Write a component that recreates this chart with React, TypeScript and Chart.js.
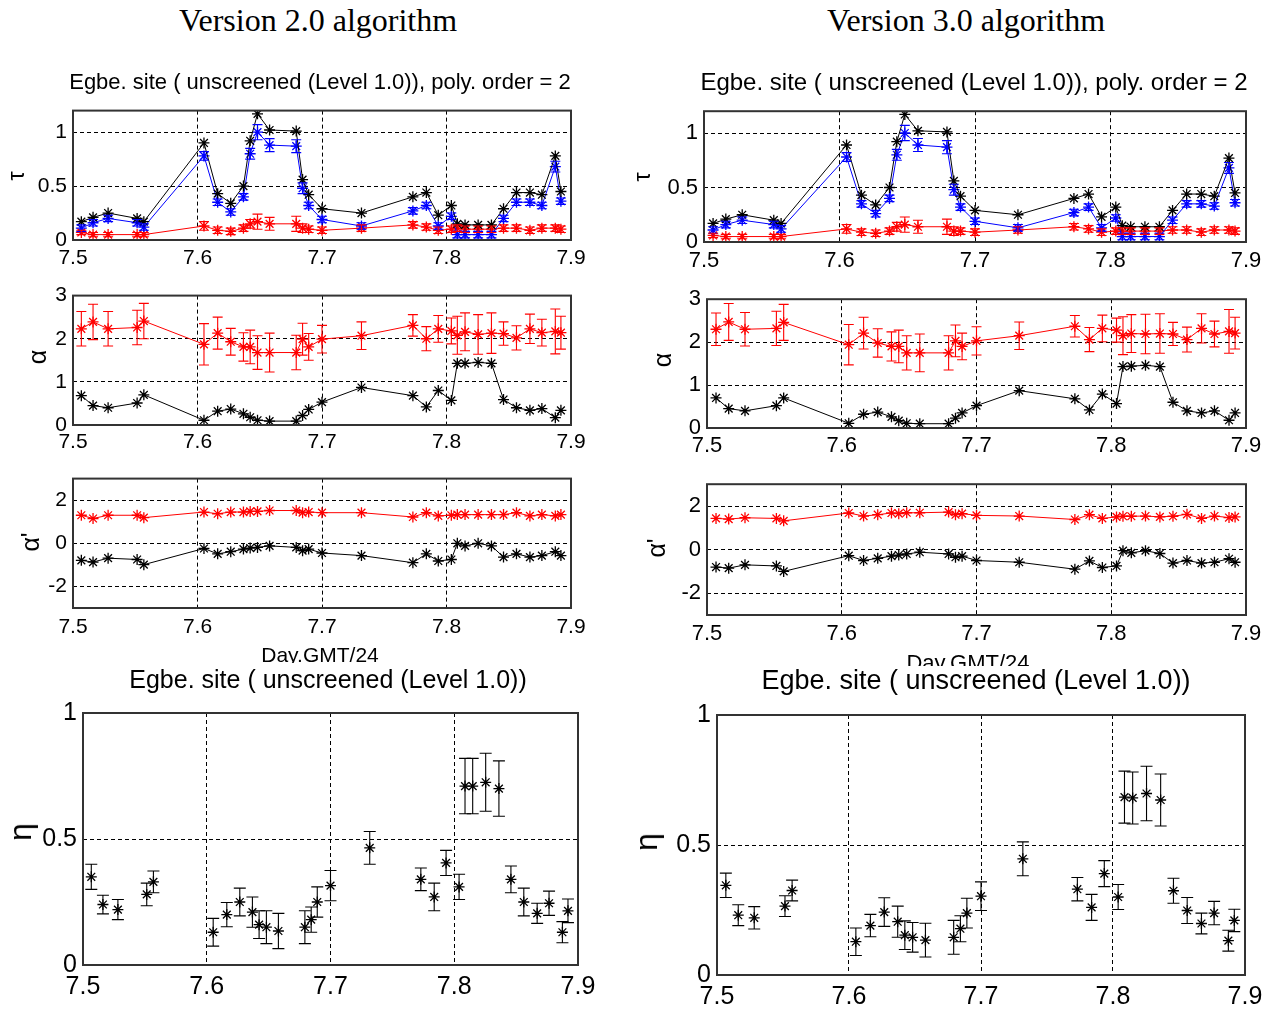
import React, { useEffect, useRef } from 'react';
import { Chart, registerables } from 'chart.js';

Chart.register(...registerables);

// Observation times (day of month + GMT hour / 24)
const dayTimes = [
  7.5067, 7.5161, 7.5282, 7.5515, 7.5569, 7.6052, 7.6162, 7.6267, 7.6369, 7.6423,
  7.6482, 7.6579, 7.6793, 7.6844, 7.6893, 7.7, 7.7317, 7.773, 7.7838, 7.7934,
  7.8039, 7.8087, 7.8149, 7.8254, 7.8361, 7.8458, 7.8562, 7.867, 7.8766, 7.8874, 7.8919,
];
const dayTicks = [7.5, 7.6, 7.7, 7.8, 7.9];
const tauTicks = [0, 0.5, 1];
const alphaTicks = [0, 1, 2, 3];
const alphaPrimeTicks = [-2, 0, 2];
const etaTicks = [0, 0.5, 1];

// ---- Version 2.0 ----
const tauTotalV2 = [0.17, 0.21, 0.25, 0.2, 0.17, 0.9, 0.43, 0.34, 0.5, 0.92, 1.17, 1.02, 1.01, 0.56, 0.42, 0.29, 0.25, 0.4, 0.44, 0.23, 0.32, 0.15, 0.14, 0.14, 0.14, 0.29, 0.44, 0.44, 0.42, 0.78, 0.45];
const tauFineV2 = [0.11, 0.16, 0.2, 0.16, 0.12, 0.78, 0.35, 0.26, 0.4, 0.8, 1.0, 0.88, 0.87, 0.48, 0.32, 0.19, 0.13, 0.27, 0.32, 0.13, 0.22, 0.05, 0.05, 0.05, 0.05, 0.2, 0.35, 0.35, 0.32, 0.68, 0.36];
const tauFineErrV2 = [0.03, 0.03, 0.03, 0.03, 0.03, 0.04, 0.03, 0.03, 0.03, 0.05, 0.07, 0.06, 0.06, 0.05, 0.03, 0.03, 0.03, 0.03, 0.03, 0.03, 0.03, 0.03, 0.03, 0.03, 0.03, 0.03, 0.03, 0.03, 0.03, 0.05, 0.03];
const tauCoarseV2 = [0.07, 0.05, 0.05, 0.05, 0.05, 0.13, 0.09, 0.08, 0.11, 0.15, 0.17, 0.15, 0.15, 0.11, 0.1, 0.09, 0.11, 0.14, 0.12, 0.09, 0.1, 0.11, 0.1, 0.1, 0.1, 0.11, 0.11, 0.09, 0.11, 0.11, 0.1];
const tauCoarseErrV2 = [0.02, 0.02, 0.02, 0.02, 0.02, 0.04, 0.03, 0.03, 0.03, 0.04, 0.07, 0.06, 0.07, 0.04, 0.03, 0.03, 0.03, 0.03, 0.03, 0.03, 0.03, 0.03, 0.03, 0.03, 0.03, 0.03, 0.03, 0.03, 0.03, 0.03, 0.03];
const alphaFitV2 = [0.68, 0.45, 0.4, 0.51, 0.7, 0.11, 0.32, 0.37, 0.26, 0.18, 0.11, 0.09, 0.09, 0.22, 0.36, 0.53, 0.87, 0.68, 0.42, 0.8, 0.57, 1.43, 1.43, 1.45, 1.43, 0.59, 0.4, 0.34, 0.38, 0.17, 0.34];
const alphaV2 = [2.23, 2.39, 2.23, 2.26, 2.41, 1.87, 2.13, 1.93, 1.81, 1.81, 1.68, 1.68, 1.68, 1.99, 1.81, 1.99, 2.07, 2.31, 2.0, 2.23, 2.18, 2.08, 2.16, 2.1, 2.13, 2.12, 2.02, 2.23, 2.14, 2.17, 2.14];
const alphaErrV2 = [0.4, 0.41, 0.4, 0.4, 0.41, 0.48, 0.37, 0.31, 0.33, 0.39, 0.39, 0.45, 0.4, 0.37, 0.31, 0.32, 0.32, 0.25, 0.28, 0.31, 0.3, 0.44, 0.44, 0.46, 0.47, 0.27, 0.28, 0.34, 0.31, 0.52, 0.38];
const alphaPrimeCoarseV2 = [1.3, 1.15, 1.3, 1.3, 1.19, 1.45, 1.37, 1.45, 1.45, 1.48, 1.48, 1.52, 1.52, 1.42, 1.45, 1.42, 1.42, 1.22, 1.42, 1.27, 1.3, 1.33, 1.33, 1.33, 1.33, 1.33, 1.42, 1.27, 1.33, 1.27, 1.33];
const alphaPrimeFineV2 = [-0.79, -0.87, -0.69, -0.75, -0.99, -0.24, -0.49, -0.39, -0.27, -0.22, -0.19, -0.12, -0.19, -0.34, -0.27, -0.45, -0.57, -0.9, -0.49, -0.82, -0.75, 0.0, -0.12, 0.0, -0.12, -0.64, -0.49, -0.64, -0.57, -0.39, -0.57];
const etaV2 = [0.35, 0.24, 0.22, 0.28, 0.33, 0.13, 0.2, 0.25, 0.21, 0.16, 0.15, 0.135, 0.15, 0.18, 0.25, 0.315, 0.465, 0.34, 0.27, 0.405, 0.31, 0.71, 0.71, 0.725, 0.7, 0.34, 0.25, 0.205, 0.245, 0.13, 0.215];
const etaErrV2 = [0.05, 0.037, 0.04, 0.045, 0.043, 0.055, 0.048, 0.055, 0.06, 0.055, 0.065, 0.07, 0.065, 0.05, 0.06, 0.06, 0.065, 0.045, 0.055, 0.05, 0.05, 0.11, 0.11, 0.115, 0.11, 0.053, 0.055, 0.04, 0.048, 0.042, 0.047];

// ---- Version 3.0 ----
const tauTotalV3 = [0.17, 0.21, 0.25, 0.2, 0.17, 0.89, 0.43, 0.34, 0.5, 0.92, 1.17, 1.02, 1.01, 0.56, 0.42, 0.29, 0.25, 0.4, 0.44, 0.23, 0.32, 0.15, 0.14, 0.14, 0.14, 0.29, 0.44, 0.44, 0.42, 0.77, 0.45];
const tauFineV3 = [0.11, 0.16, 0.2, 0.16, 0.12, 0.78, 0.35, 0.26, 0.4, 0.8, 1.0, 0.89, 0.87, 0.48, 0.32, 0.19, 0.13, 0.27, 0.32, 0.13, 0.22, 0.05, 0.05, 0.05, 0.05, 0.2, 0.35, 0.35, 0.33, 0.68, 0.36];
const tauFineErrV3 = [0.03, 0.03, 0.03, 0.03, 0.03, 0.04, 0.03, 0.03, 0.03, 0.05, 0.07, 0.06, 0.06, 0.05, 0.03, 0.03, 0.03, 0.03, 0.03, 0.03, 0.03, 0.03, 0.03, 0.03, 0.03, 0.03, 0.03, 0.03, 0.03, 0.05, 0.03];
const tauCoarseV3 = [0.06, 0.05, 0.05, 0.05, 0.05, 0.12, 0.09, 0.08, 0.1, 0.14, 0.16, 0.14, 0.14, 0.1, 0.1, 0.09, 0.11, 0.14, 0.12, 0.09, 0.1, 0.1, 0.1, 0.1, 0.1, 0.11, 0.11, 0.09, 0.11, 0.11, 0.1];
const tauCoarseErrV3 = [0.02, 0.02, 0.02, 0.02, 0.02, 0.04, 0.03, 0.03, 0.03, 0.04, 0.07, 0.06, 0.07, 0.04, 0.03, 0.03, 0.03, 0.03, 0.03, 0.03, 0.03, 0.03, 0.03, 0.03, 0.03, 0.03, 0.03, 0.03, 0.03, 0.03, 0.03];
const alphaFitV3 = [0.7, 0.45, 0.4, 0.52, 0.7, 0.11, 0.32, 0.37, 0.26, 0.17, 0.11, 0.1, 0.1, 0.23, 0.35, 0.52, 0.87, 0.68, 0.42, 0.79, 0.57, 1.43, 1.44, 1.46, 1.43, 0.6, 0.4, 0.35, 0.4, 0.18, 0.35];
const alphaV3 = [2.3, 2.47, 2.3, 2.32, 2.46, 1.94, 2.21, 1.98, 1.9, 1.9, 1.75, 1.75, 1.75, 2.03, 1.9, 2.03, 2.15, 2.37, 2.06, 2.32, 2.28, 2.15, 2.2, 2.19, 2.2, 2.19, 2.06, 2.32, 2.19, 2.25, 2.21];
const alphaErrV3 = [0.38, 0.43, 0.39, 0.4, 0.42, 0.47, 0.37, 0.33, 0.34, 0.38, 0.4, 0.44, 0.4, 0.37, 0.31, 0.33, 0.32, 0.25, 0.28, 0.31, 0.28, 0.44, 0.44, 0.46, 0.46, 0.27, 0.29, 0.34, 0.3, 0.51, 0.37];
const alphaPrimeCoarseV3 = [1.43, 1.4, 1.46, 1.43, 1.32, 1.68, 1.54, 1.6, 1.68, 1.65, 1.69, 1.69, 1.72, 1.6, 1.65, 1.57, 1.54, 1.38, 1.6, 1.43, 1.5, 1.53, 1.53, 1.54, 1.5, 1.53, 1.62, 1.43, 1.54, 1.47, 1.5];
const alphaPrimeFineV3 = [-0.8, -0.85, -0.7, -0.75, -1.0, -0.28, -0.5, -0.4, -0.3, -0.25, -0.2, -0.12, -0.2, -0.35, -0.3, -0.5, -0.58, -0.9, -0.52, -0.82, -0.75, -0.05, -0.15, -0.05, -0.18, -0.62, -0.5, -0.62, -0.58, -0.42, -0.58];
const etaV3 = [0.345, 0.23, 0.22, 0.265, 0.325, 0.128, 0.19, 0.242, 0.205, 0.153, 0.145, 0.134, 0.145, 0.178, 0.238, 0.303, 0.447, 0.33, 0.26, 0.39, 0.3, 0.684, 0.681, 0.698, 0.673, 0.324, 0.248, 0.198, 0.238, 0.132, 0.21];
const etaErrV3 = [0.047, 0.04, 0.043, 0.04, 0.04, 0.053, 0.043, 0.055, 0.06, 0.055, 0.057, 0.065, 0.065, 0.05, 0.057, 0.055, 0.065, 0.045, 0.05, 0.05, 0.048, 0.1, 0.1, 0.105, 0.1, 0.048, 0.05, 0.04, 0.045, 0.04, 0.043];

const RED = '#ff0000';
const BLUE = '#0000ff';
const BLACK = '#000000';
const SANS = '"Liberation Sans", Arial, sans-serif';
const SERIF = '"Liberation Serif", "Times New Roman", serif';

// Space reserved around each plot box inside its canvas
const PAD_L = 70;
const PAD_T = 16;
const PAD_R = 28;
const PAD_B = 48;

type Series = { y: number[]; err?: number[]; color: string; line: boolean };
type Panel = {
  key: string;
  box: [number, number, number, number]; // left, top, right, bottom of the plot box
  yMin: number;
  yMax: number;
  yTicks: number[];
  fontSize: number;
  xPad: number;
  radius: number;
  cap: number;
  series: Series[];
};

const errorBarPlugin = {
  id: 'errorBars',
  afterDatasetsDraw(chart: any) {
    const ctx = chart.ctx;
    const yScale = chart.scales.y;
    chart.data.datasets.forEach((ds: any, i: number) => {
      if (!ds.errors) return;
      const meta = chart.getDatasetMeta(i);
      const cap = ds.capHalf || 5;
      ctx.save();
      ctx.strokeStyle = ds.borderColor;
      ctx.lineWidth = 1.1;
      meta.data.forEach((pt: any, j: number) => {
        const v = ds.data[j].y;
        const e = ds.errors[j];
        const yt = yScale.getPixelForValue(v + e);
        const yb = yScale.getPixelForValue(v - e);
        const x = pt.x;
        ctx.beginPath();
        ctx.moveTo(x, yt);
        ctx.lineTo(x, yb);
        ctx.moveTo(x - cap, yt);
        ctx.lineTo(x + cap, yt);
        ctx.moveTo(x - cap, yb);
        ctx.lineTo(x + cap, yb);
        ctx.stroke();
      });
      ctx.restore();
    });
  },
};

// Solid box round the plot area (covers the dashed grid lines on its edges)
const framePlugin = {
  id: 'boxFrame',
  afterDraw(chart: any) {
    const { left, top, right, bottom } = chart.chartArea;
    const ctx = chart.ctx;
    ctx.save();
    ctx.strokeStyle = '#333333';
    ctx.lineWidth = 2;
    ctx.strokeRect(left, top, right - left, bottom - top);
    ctx.restore();
  },
};

const panels: Panel[] = [
  {
    key: 'tau2', box: [73, 108, 571, 240], yMin: 0, yMax: 1.2, yTicks: tauTicks, fontSize: 21, xPad: 6, radius: 5.5, cap: 5,
    series: [
      { y: tauTotalV2, color: BLACK, line: true },
      { y: tauFineV2, err: tauFineErrV2, color: BLUE, line: true },
      { y: tauCoarseV2, err: tauCoarseErrV2, color: RED, line: true },
    ],
  },
  {
    key: 'alpha2', box: [73, 293, 571, 425], yMin: 0, yMax: 3, yTicks: alphaTicks, fontSize: 21, xPad: 5, radius: 5.5, cap: 5,
    series: [
      { y: alphaV2, err: alphaErrV2, color: RED, line: true },
      { y: alphaFitV2, color: BLACK, line: true },
    ],
  },
  {
    key: 'alphap2', box: [73, 476, 571, 608], yMin: -3, yMax: 3, yTicks: alphaPrimeTicks, fontSize: 21, xPad: 7, radius: 5.5, cap: 5,
    series: [
      { y: alphaPrimeCoarseV2, color: RED, line: true },
      { y: alphaPrimeFineV2, color: BLACK, line: true },
    ],
  },
  {
    key: 'eta2', box: [83, 708, 578, 965], yMin: 0, yMax: 1, yTicks: etaTicks, fontSize: 25, xPad: 7, radius: 5.5, cap: 6,
    series: [{ y: etaV2, err: etaErrV2, color: BLACK, line: false }],
  },
  {
    key: 'tau3', box: [704, 108, 1246, 242], yMin: 0, yMax: 1.2, yTicks: tauTicks, fontSize: 22, xPad: 6, radius: 5.5, cap: 5,
    series: [
      { y: tauTotalV3, color: BLACK, line: true },
      { y: tauFineV3, err: tauFineErrV3, color: BLUE, line: true },
      { y: tauCoarseV3, err: tauCoarseErrV3, color: RED, line: true },
    ],
  },
  {
    key: 'alpha3', box: [707, 296, 1246, 428], yMin: 0, yMax: 3, yTicks: alphaTicks, fontSize: 22, xPad: 5, radius: 5.5, cap: 5,
    series: [
      { y: alphaV3, err: alphaErrV3, color: RED, line: true },
      { y: alphaFitV3, color: BLACK, line: true },
    ],
  },
  {
    key: 'alphap3', box: [707, 481, 1246, 615], yMin: -3, yMax: 3, yTicks: alphaPrimeTicks, fontSize: 22, xPad: 6, radius: 5.5, cap: 5,
    series: [
      { y: alphaPrimeCoarseV3, color: RED, line: true },
      { y: alphaPrimeFineV3, color: BLACK, line: true },
    ],
  },
  {
    key: 'eta3', box: [717, 710, 1245, 975], yMin: 0, yMax: 1, yTicks: etaTicks, fontSize: 25, xPad: 7, radius: 5.5, cap: 6,
    series: [{ y: etaV3, err: etaErrV3, color: BLACK, line: false }],
  },
];

function PanelChart({ panel }: { panel: Panel }) {
  const ref = useRef<HTMLCanvasElement>(null);
  const [l, t, r, b] = panel.box;
  const w = r - l + PAD_L + PAD_R;
  const h = b - t + PAD_T + PAD_B;

  useEffect(() => {
    if (!ref.current) return;
    const font = { family: SANS, size: panel.fontSize };
    const chart = new Chart(ref.current, {
      type: 'scatter',
      data: {
        datasets: panel.series.map((s) => ({
          data: dayTimes.map((x, i) => ({ x, y: s.y[i] })),
          borderColor: s.color,
          backgroundColor: s.color,
          borderWidth: 1,
          showLine: s.line,
          tension: 0,
          pointStyle: 'star',
          pointRadius: panel.radius,
          pointBorderWidth: 1.3,
          pointBorderColor: s.color,
          errors: s.err,
          capHalf: panel.cap,
        })) as any,
      },
      options: {
        responsive: false,
        animation: false,
        events: [],
        layout: { padding: { top: PAD_T, right: PAD_R, left: 0, bottom: 0 } },
        plugins: { legend: { display: false }, tooltip: { enabled: false } },
        scales: {
          x: {
            type: 'linear',
            min: 7.5,
            max: 7.9,
            afterBuildTicks: (s: any) => {
              s.ticks = dayTicks.map((v) => ({ value: v }));
            },
            afterFit: (s: any) => {
              s.height = PAD_B;
            },
            grid: { color: '#000000', lineWidth: 1, drawTicks: false },
            border: { display: false, dash: [4, 3] },
            ticks: {
              color: '#000000',
              font,
              padding: panel.xPad,
              maxRotation: 0,
              autoSkip: false,
              callback: (v: any) => Number(v).toFixed(1),
            },
          },
          y: {
            type: 'linear',
            min: panel.yMin,
            max: panel.yMax,
            afterBuildTicks: (s: any) => {
              s.ticks = panel.yTicks.map((v) => ({ value: v }));
            },
            afterFit: (s: any) => {
              s.width = PAD_L;
            },
            grid: { color: '#000000', lineWidth: 1, drawTicks: false },
            border: { display: false, dash: [4, 3] },
            ticks: {
              color: '#000000',
              font,
              padding: 6,
              autoSkip: false,
              callback: (v: any) => String(v),
            },
          },
        },
      } as any,
      plugins: [errorBarPlugin, framePlugin],
    });
    return () => chart.destroy();
  }, [panel]);

  return (
    <canvas
      ref={ref}
      width={w}
      height={h}
      style={{ position: 'absolute', left: l - PAD_L, top: t - PAD_T, width: w, height: h }}
    />
  );
}

function Text({ x, y, size, family, text, rotate }: { x: number; y: number; size: number; family: string; text: string; rotate?: boolean }) {
  return (
    <div
      style={{
        position: 'absolute',
        left: x,
        top: y,
        transform: `translate(-50%, -50%)${rotate ? ' rotate(-90deg)' : ''}`,
        fontFamily: family,
        fontSize: size,
        lineHeight: `${size}px`,
        whiteSpace: 'nowrap',
        color: '#000',
      }}
    >
      {text}
    </div>
  );
}

// Axis caption that is partly hidden behind the panel beneath it
function ClippedText({ x, y, size, clipBottom, text }: { x: number; y: number; size: number; clipBottom: number; text: string }) {
  const top = y - size / 2;
  return (
    <div style={{ position: 'absolute', left: x - 100, top, width: 200, height: clipBottom - top, overflow: 'hidden' }}>
      <div style={{ width: 200, textAlign: 'center', fontFamily: SANS, fontSize: size, lineHeight: `${size}px`, whiteSpace: 'nowrap' }}>
        {text}
      </div>
    </div>
  );
}

export default function App() {
  return (
    <div style={{ position: 'absolute', left: 0, top: 0, width: 1275, height: 1009, background: '#fff', overflow: 'hidden' }}>
      {panels.map((p) => (
        <PanelChart key={p.key} panel={p} />
      ))}

      <Text x={318} y={20} size={32} family={SERIF} text="Version 2.0 algorithm" />
      <Text x={966} y={20} size={32} family={SERIF} text="Version 3.0 algorithm" />

      <Text x={320} y={82} size={22} family={SANS} text="Egbe. site ( unscreened (Level 1.0)), poly. order = 2" />
      <Text x={974} y={82} size={24} family={SANS} text="Egbe. site ( unscreened (Level 1.0)), poly. order = 2" />

      <Text x={16} y={176} size={23} family={SANS} text="τ" rotate />
      <Text x={642} y={177} size={23} family={SANS} text="τ" rotate />
      <Text x={37} y={357} size={25} family={SANS} text="α" rotate />
      <Text x={662} y={360} size={25} family={SANS} text="α" rotate />
      <Text x={30} y={542} size={25} family={SANS} text="α'" rotate />
      <Text x={656} y={548} size={25} family={SANS} text="α'" rotate />
      <Text x={20} y={832} size={32} family={SANS} text="η" rotate />
      <Text x={646} y={842} size={32} family={SANS} text="η" rotate />

      <ClippedText x={320} y={654} size={21} clipBottom={663} text="Day.GMT/24" />
      <ClippedText x={968} y={663} size={22} clipBottom={666} text="Day.GMT/24" />

      <Text x={328} y={679} size={25} family={SANS} text="Egbe. site ( unscreened (Level 1.0))" />
      <Text x={976} y={680} size={27} family={SANS} text="Egbe. site ( unscreened (Level 1.0))" />
    </div>
  );
}
